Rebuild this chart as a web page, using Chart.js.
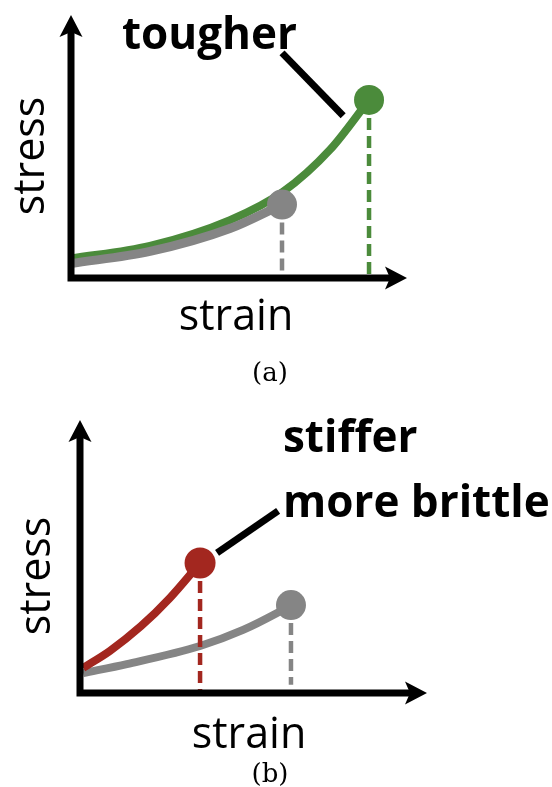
<!DOCTYPE html>
<html>
<head>
<meta charset="utf-8">
<title>stress-strain sketches</title>
<script src="https://cdn.jsdelivr.net/npm/chart.js@4.4.1/dist/chart.umd.min.js"></script>
<style>
  body { margin: 0; background: #fff; }
  .panel { position: absolute; left: 0; }
  .preload { position: absolute; left: -999px; top: 0; }
</style>
</head>
<body>
<div class="preload">
  <span style="font: bold 44px 'Open Sans'">tougher</span>
  <span style="font: 43px 'Open Sans'">strain</span>
  <span style="font: 26px 'DejaVu Serif'">(a)</span>
</div>
<div class="panel" style="top:0"><canvas id="chartA" width="552" height="390"></canvas></div>
<div class="panel" style="top:390px"><canvas id="chartB" width="552" height="397"></canvas></div>
<script>
// panel (a): strain / stress in arbitrary units (0..10 on both axes)
const toughStrain = [0, 2.35, 4.73, 6.31, 7.71, 8.87];
const toughStress = [0.74, 1.22, 2.20, 3.28, 4.88, 6.77];
const baseAStrain = [0, 2.35, 4.73, 6.28];
const baseAStress = [0.55, 1.01, 1.88, 2.79];
const leaderAStrain = [6.28, 8.10];
const leaderAStress = [8.56, 6.17];

// panel (b)
const stiffStrain = [0.09, 0.86, 1.76, 2.59, 3.46];
const stiffStress = [0.92, 1.54, 2.45, 3.48, 4.76];
const baseBStrain = [0.09, 1.35, 3.46, 4.70, 5.68, 6.08];
const baseBStress = [0.73, 1.06, 1.72, 2.31, 2.93, 3.22];
const leaderBStrain = [3.95, 5.71];
const leaderBStress = [5.13, 6.67];

// where the dashed drop lines stop
const dropEndA = [0, 0.17];  // green, gray
const dropEndB = [0, 0.3];   // red, gray

const labelsA = ['tougher'];
const labelsB = ['stiffer', 'more brittle'];
const axisTitles = ['strain', 'stress'];
const captions = ['(a)', '(b)'];

const GREEN = '#4b8b3b';
const GRAY = '#858585';
const RED = '#a3271f';

const pts = (xs, ys) => xs.map((x, i) => ({x: x, y: ys[i]}));

function curve(xs, ys, color, width, order) {
  return {data: pts(xs, ys), borderColor: color, borderWidth: width, pointRadius: 0,
    cubicInterpolationMode: 'monotone', fill: false, order: order, clip: false};
}

function dot(xs, ys, color, r, order) {
  const n = xs.length - 1;
  return {data: [{x: xs[n], y: ys[n]}], showLine: false, pointRadius: r, pointHoverRadius: r,
    pointBackgroundColor: color, pointBorderWidth: 0, order: order, clip: false};
}

function drop(xs, ys, end, color, order) {
  const n = xs.length - 1;
  return {data: [{x: xs[n], y: ys[n]}, {x: xs[n], y: end}], borderColor: color, borderWidth: 4.5,
    borderDash: [12, 6], pointRadius: 0, order: order, clip: false};
}

function leader(xs, ys) {
  return {data: pts(xs, ys), borderColor: '#000', borderWidth: 7, pointRadius: 0,
    borderCapStyle: 'butt', order: 0, clip: false};
}

// axes with arrow heads, plus the text labels
const panelDecor = {
  id: 'panelDecor',
  afterDatasetsDraw(chart, args, opts) {
    const ctx = chart.ctx;
    const a = chart.chartArea;
    const head = 22, half = 11.5, notch = 5;
    ctx.save();
    ctx.strokeStyle = '#000';
    ctx.fillStyle = '#000';
    ctx.lineWidth = 7;
    ctx.lineJoin = 'miter';
    ctx.beginPath();
    ctx.moveTo(a.left, a.top + head - notch);
    ctx.lineTo(a.left, a.bottom);
    ctx.lineTo(a.right - head + notch, a.bottom);
    ctx.stroke();

    ctx.beginPath();
    ctx.moveTo(a.left, a.top);
    ctx.lineTo(a.left + half, a.top + head);
    ctx.lineTo(a.left, a.top + head - notch);
    ctx.lineTo(a.left - half, a.top + head);
    ctx.closePath();
    ctx.fill();

    ctx.beginPath();
    ctx.moveTo(a.right, a.bottom);
    ctx.lineTo(a.right - head, a.bottom - half);
    ctx.lineTo(a.right - head + notch, a.bottom);
    ctx.lineTo(a.right - head, a.bottom + half);
    ctx.closePath();
    ctx.fill();

    opts.texts.forEach(t => {
      ctx.save();
      ctx.font = t.font;
      ctx.textAlign = t.align || 'left';
      ctx.textBaseline = 'alphabetic';
      ctx.translate(t.x, t.y);
      if (t.rotate) ctx.rotate(-Math.PI / 2);
      ctx.fillText(t.text, 0, 0);
      ctx.restore();
    });
    ctx.restore();
  }
};

const BOLD = 'bold 44px "Open Sans"';
const REG = '43px "Open Sans"';
const SERIF = '26px "DejaVu Serif"';

function makeChart(id, datasets, padding, texts) {
  return new Chart(document.getElementById(id), {
    type: 'line',
    data: {datasets: datasets},
    options: {
      responsive: false,
      animation: false,
      events: [],
      layout: {padding: padding},
      plugins: {legend: {display: false}, tooltip: {enabled: false}, panelDecor: {texts: texts}},
      scales: {
        x: {type: 'linear', min: 0, max: 10, display: false},
        y: {type: 'linear', min: 0, max: 10, display: false}
      }
    },
    plugins: [panelDecor]
  });
}

function drawAll() {
  makeChart('chartA', [
    leader(leaderAStrain, leaderAStress),
    dot(toughStrain, toughStress, GREEN, 15, 1),
    dot(baseAStrain, baseAStress, GRAY, 15, 1),
    curve(baseAStrain, baseAStress, GRAY, 9, 2),
    curve(toughStrain, toughStress, GREEN, 8, 3),
    drop(toughStrain, toughStress, dropEndA[0], GREEN, 4),
    drop(baseAStrain, baseAStress, dropEndA[1], GRAY, 4)
  ], {left: 71, right: 145, top: 14, bottom: 112}, [
    {text: labelsA[0], x: 122, y: 49, font: BOLD},
    {text: axisTitles[0], x: 236, y: 330, font: REG, align: 'center'},
    {text: axisTitles[1], x: 44, y: 156, font: REG, align: 'center', rotate: true},
    {text: captions[0], x: 270, y: 381, font: SERIF, align: 'center'}
  ]);

  makeChart('chartB', [
    leader(leaderBStrain, leaderBStress),
    dot(stiffStrain, stiffStress, RED, 15.5, 1),
    dot(baseBStrain, baseBStress, GRAY, 15, 1),
    drop(stiffStrain, stiffStress, dropEndB[0], RED, 2),
    curve(baseBStrain, baseBStress, GRAY, 8, 3),
    curve(stiffStrain, stiffStress, RED, 8, 2),
    drop(baseBStrain, baseBStress, dropEndB[1], GRAY, 4)
  ], {left: 80, right: 125, top: 30, bottom: 94}, [
    {text: labelsB[0], x: 283, y: 62, font: BOLD},
    {text: labelsB[1], x: 283, y: 127, font: BOLD},
    {text: axisTitles[0], x: 249, y: 358, font: REG, align: 'center'},
    {text: axisTitles[1], x: 50, y: 186, font: REG, align: 'center', rotate: true},
    {text: captions[1], x: 270, y: 392, font: SERIF, align: 'center'}
  ]);
}

Promise.all([BOLD, REG, SERIF].map(f => document.fonts.load(f)))
  .catch(() => null)
  .then(drawAll);
</script>
</body>
</html>
